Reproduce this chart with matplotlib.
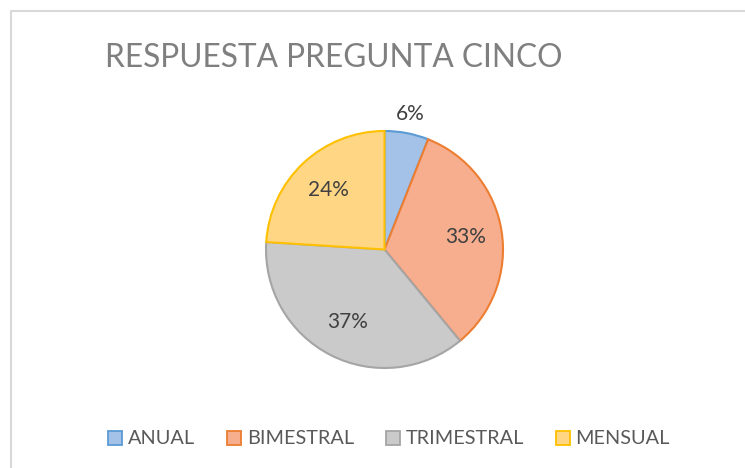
import matplotlib.pyplot as plt
from matplotlib.lines import Line2D
import numpy as np

categories = ['ANUAL', 'BIMESTRAL', 'TRIMESTRAL', 'MENSUAL']
percentages = [6, 33, 37, 24]
fill_colors = ['#A4C2E7', '#F6AE8E', '#CACACA', '#FFD684']
edge_colors = ['#5B9BD5', '#ED7D31', '#A5A5A5', '#FFC000']

plt.rcParams['font.family'] = ['Lato', 'DejaVu Sans']

W, H = 745, 468
fig = plt.figure(figsize=(W / 100, H / 100), dpi=100)
fig.patch.set_facecolor('white')

# chart frame (only left and top edges are visible in the crop)
fig.add_artist(Line2D([10.5 / W, 10.5 / W, 1.0], [0.0, 1 - 10.5 / H, 1 - 10.5 / H],
                      transform=fig.transFigure, color='#D9D9D9', lw=1.5))

fig.text(105 / W, 1 - 58 / H, 'RESPUESTA PREGUNTA CINCO', fontsize=22.8,
         color='#7F7F7F', ha='left', va='center')

# pie centred at (384.5, 249.5) px, radius 118.5 px
cx, cy, r = 384.5, 249.5, 118.5
ax = fig.add_axes([(cx - r) / W, 1 - (cy + r) / H, 2 * r / W, 2 * r / H])
wedges, texts, autotexts = ax.pie(
    percentages, colors=fill_colors, startangle=90, counterclock=False,
    radius=1, autopct='%d%%', pctdistance=0.69,
    wedgeprops=dict(linewidth=1.5), textprops=dict(fontsize=15, color='#404040'))
for w, ec in zip(wedges, edge_colors):
    w.set_edgecolor(ec)
# the small slice gets its label outside, as Excel "best fit" does
w0 = wedges[0]
ang = np.deg2rad((w0.theta1 + w0.theta2) / 2)
autotexts[0].set_position((1.16 * np.cos(ang), 1.16 * np.sin(ang)))
ax.set_xlim(-1, 1)
ax.set_ylim(-1, 1)
ax.set_aspect('equal')
ax.axis('off')

handles = [Line2D([0], [0], marker='s', linestyle='none', markersize=10,
                  markerfacecolor=fc, markeredgecolor=ec, markeredgewidth=1.3)
           for fc, ec in zip(fill_colors, edge_colors)]
fig.legend(handles, categories, loc='center', bbox_to_anchor=(389 / W, 1 - 439 / H),
           ncol=4, frameon=False, fontsize=14.3, labelcolor='#595959',
           handlelength=0.7, handletextpad=0.3, columnspacing=1.6)

fig.savefig('out.png', dpi=100)
